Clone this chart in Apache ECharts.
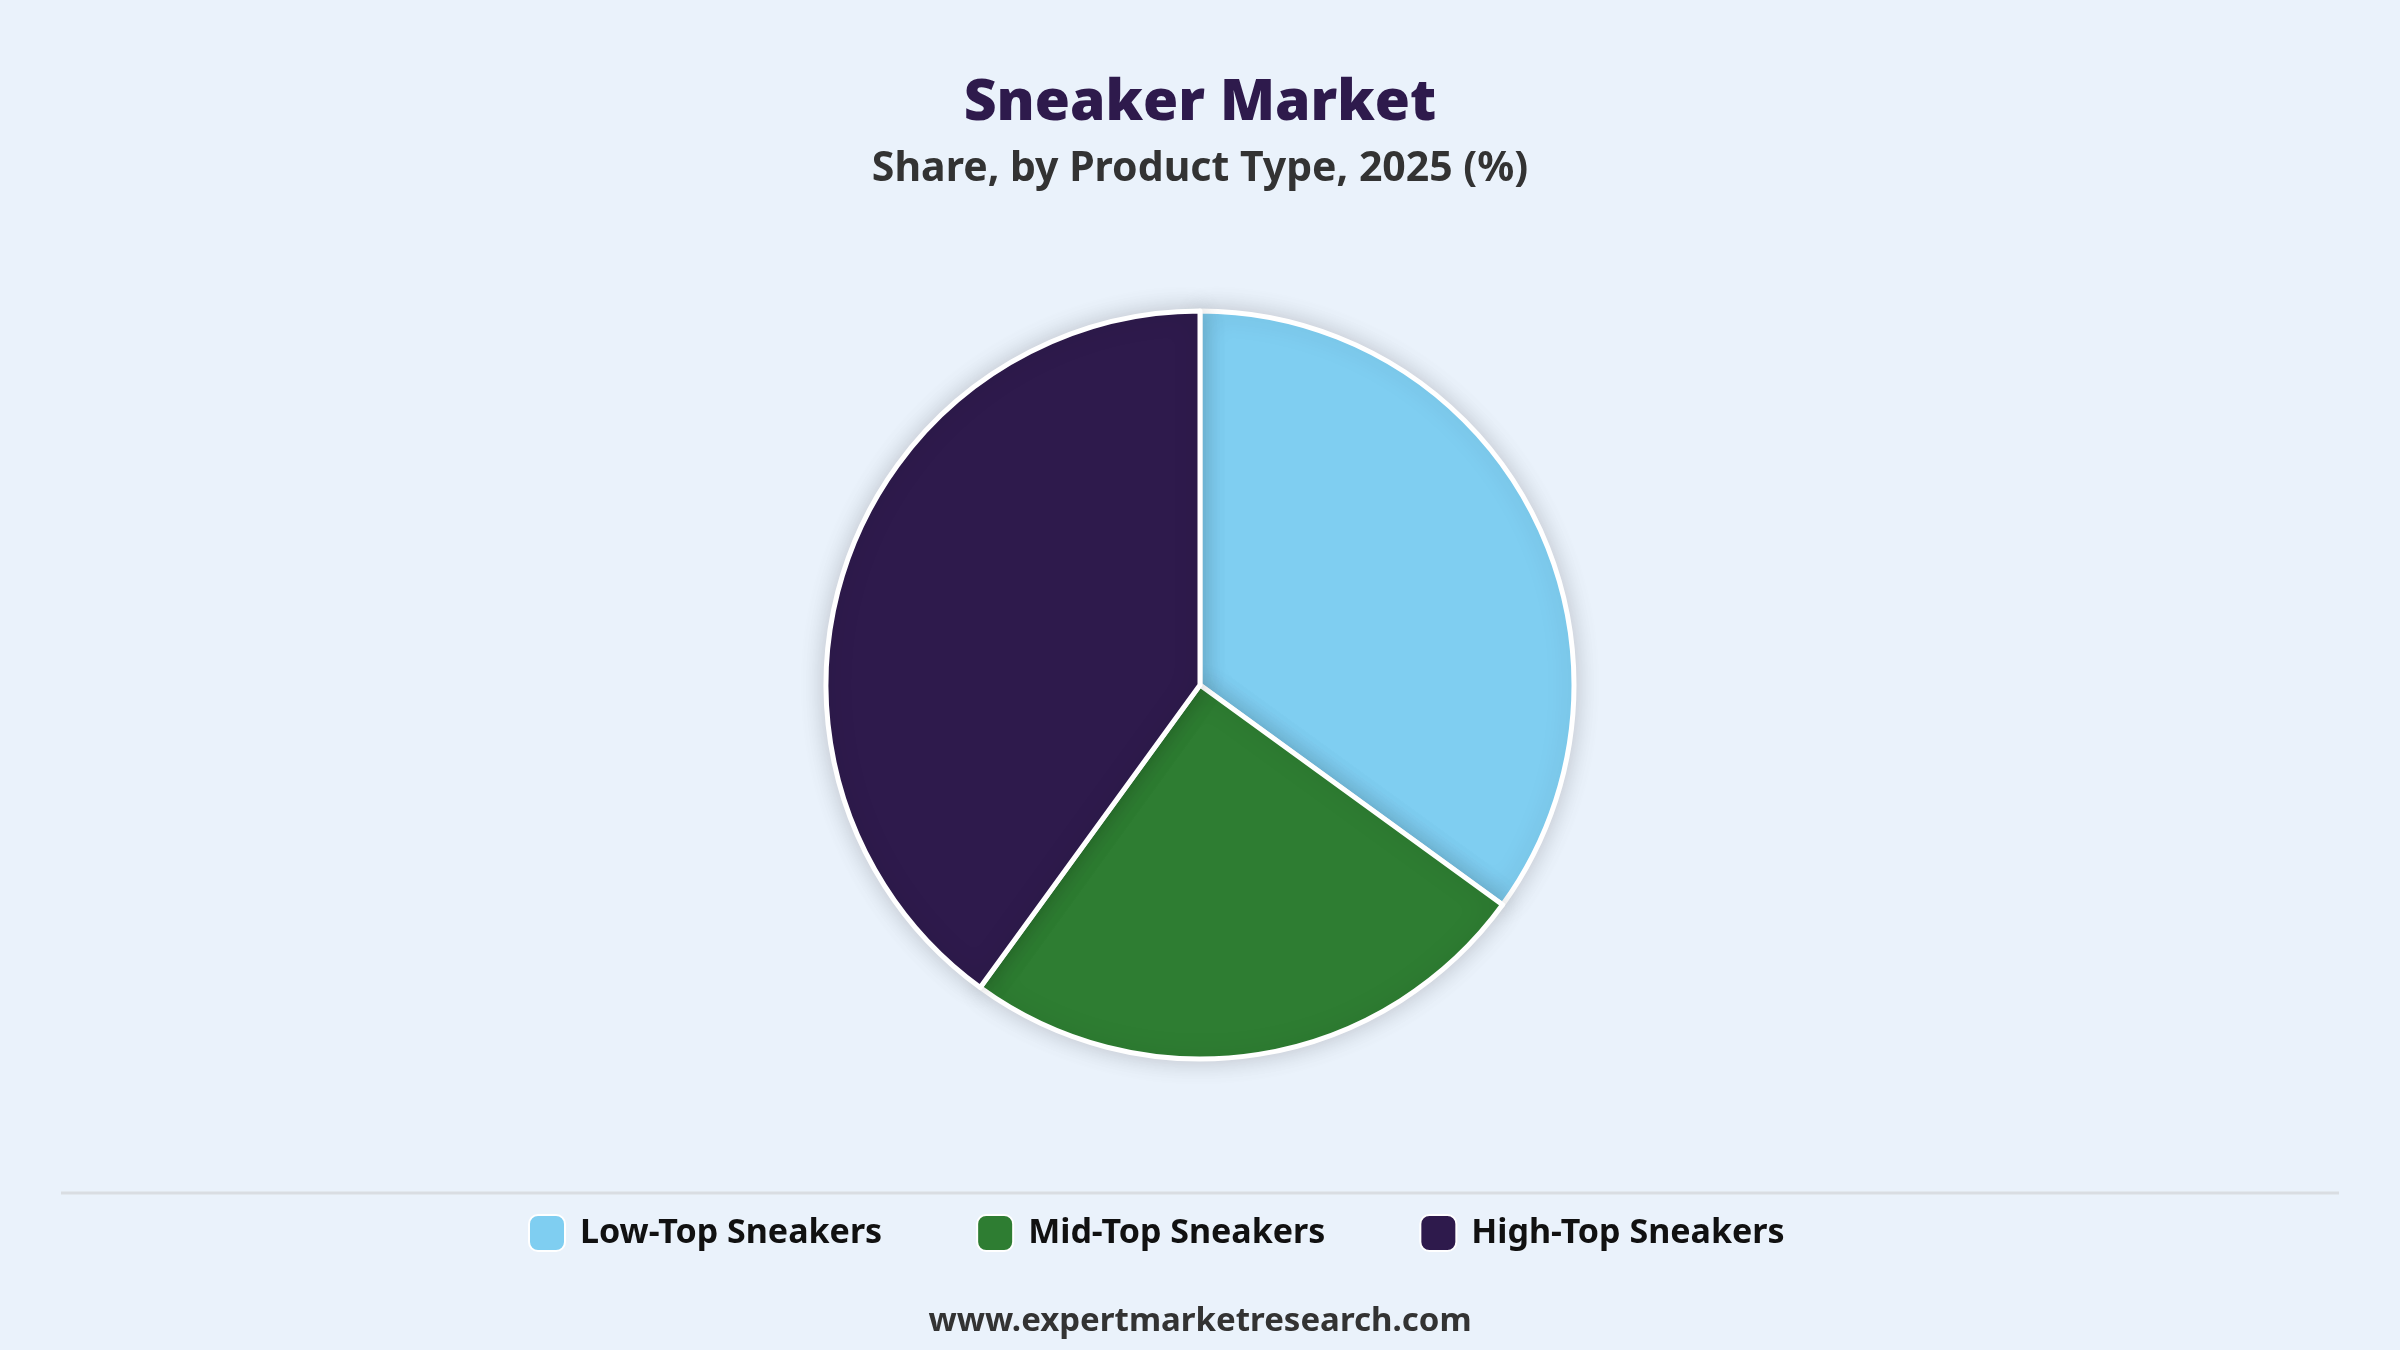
<!DOCTYPE html>
<html>
<head>
<meta charset="utf-8">
<script src="https://cdn.jsdelivr.net/npm/echarts@6/dist/echarts.min.js"></script>
<style>
  html, body { margin: 0; padding: 0; background: #eaf2fb; }
  #chart { width: 2400px; height: 1350px; }
</style>
</head>
<body>
<div id="chart"></div>
<script>
const categories = ['Low-Top Sneakers', 'Mid-Top Sneakers', 'High-Top Sneakers'];
const shares = [35, 25, 40];
const colors = ['#7fcef1', '#2e7d32', '#2e1a4c'];

const chart = echarts.init(document.getElementById('chart'));

chart.setOption({
  backgroundColor: '#eaf2fb',
  animation: false,
  title: [
    {
      text: 'Sneaker Market',
      left: 'center',
      top: 70,
      textStyle: { fontFamily: 'Noto Sans', fontWeight: 900, fontSize: 57, color: '#2e1a4c' },
    },
    {
      text: 'Share, by Product Type, 2025 (%)',
      left: 'center',
      top: 144,
      textStyle: { fontFamily: 'Noto Sans', fontWeight: 'bold', fontSize: 41, color: '#333333' },
    },
    {
      text: 'www.expertmarketresearch.com',
      left: 'center',
      top: 1300,
      textStyle: { fontFamily: 'Noto Sans', fontWeight: 'bold', fontSize: 33, color: '#333333' },
    },
  ],
  legend: {
    data: categories,
    left: 523,
    top: 1209,
    icon: 'roundRect',
    itemWidth: 36,
    itemHeight: 36,
    itemGap: 94,
    textStyle: { fontFamily: 'Noto Sans', fontWeight: 'bold', fontSize: 34, color: '#111111', padding: [0, 0, 0, 10] },
  },
  graphic: [
    {
      type: 'line',
      shape: { x1: 61, y1: 1193, x2: 2339, y2: 1193 },
      style: { stroke: '#d9dde2', lineWidth: 3 },
    },
  ],
  series: [
    {
      type: 'pie',
      center: [1200, 685],
      radius: 374,
      startAngle: 90,
      clockwise: true,
      label: { show: false },
      labelLine: { show: false },
      emphasis: { disabled: true },
      itemStyle: {
        borderColor: '#ffffff',
        borderWidth: 5,
        shadowBlur: 24,
        shadowColor: 'rgba(0, 0, 0, 0.18)',
      },
      data: categories.map((name, i) => ({
        name: name,
        value: shares[i],
        itemStyle: { color: colors[i] },
      })),
    },
  ],
});
</script>
</body>
</html>
